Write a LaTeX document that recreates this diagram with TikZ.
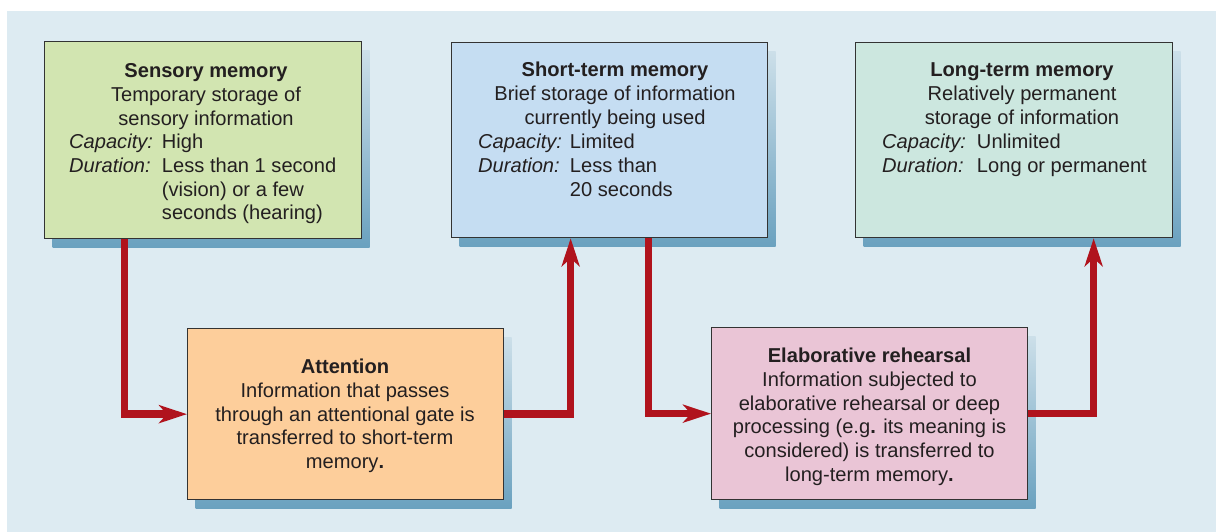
\documentclass[tikz,border=0pt]{standalone}
\usepackage{fontspec}
\setmainfont{Liberation Sans}
\usetikzlibrary{arrows.meta,calc,shadows}
\definecolor{bgblue}{HTML}{DDEBF2}
\definecolor{sensfill}{HTML}{D2E5B1}
\definecolor{stmfill}{HTML}{C5DDF2}
\definecolor{ltmfill}{HTML}{CCE7DF}
\definecolor{attfill}{HTML}{FDCE9B}
\definecolor{elabfill}{HTML}{EAC5D6}
\definecolor{shadtop}{HTML}{CCDFE9}
\definecolor{shadbot}{HTML}{6AA1BF}
\definecolor{flowred}{HTML}{B0131D}
\definecolor{edge}{HTML}{333333}
\definecolor{ink}{HTML}{231F20}
\begin{document}
\begin{tikzpicture}[x=1pt,y=-1pt,
  memBox/.style={draw=edge, line width=1.3pt, anchor=north west, inner sep=0pt,
    general shadow={shadow xshift=8pt, shadow yshift=-9pt, top color=shadtop, bottom color=shadbot, draw=none}},
  txt/.style={text=ink, font=\fontsize{20.1}{23.8}\selectfont, inner sep=0pt, anchor=base},
  flow/.style={draw=flowred, line width=7.5pt, line join=miter, -{Stealth[length=28pt,width=18pt,inset=8pt]}},
]
\useasboundingbox (0,0) rectangle (1216,532);
\fill[white] (0,0) rectangle (1216,532);
\fill[bgblue] (7,11) rectangle (1216,532);

% boxes
\node[memBox, fill=sensfill, minimum width=317pt, minimum height=197pt] (sens) at (44,41) {};
\node[memBox, fill=stmfill, minimum width=316pt, minimum height=195pt] (stm) at (451,42) {};
\node[memBox, fill=ltmfill, minimum width=317pt, minimum height=195pt] (ltm) at (855,42) {};
\node[memBox, fill=attfill, minimum width=316pt, minimum height=171pt] (att) at (187,328) {};
\node[memBox, fill=elabfill, minimum width=316pt, minimum height=172pt] (elab) at (711,327) {};

% texts
\node[txt] (sensT) at (206,77.5) {\begin{tabular}[t]{@{}c@{}}\textbf{Sensory memory}\\Temporary storage of\\sensory information\end{tabular}};
\node[txt, anchor=base west] (sensD) at (69,148.5) {\begin{tabular}[t]{@{}l@{\hspace{9pt}}l@{}}\textit{Capacity:} & High\\ \textit{Duration:} & Less than 1 second\\ & (vision) or a few\\ & seconds (hearing)\end{tabular}};

\node[txt] (stmT) at (615,76.5) {\begin{tabular}[t]{@{}c@{}}\textbf{Short-term memory}\\Brief storage of information\\currently being used\end{tabular}};
\node[txt, anchor=base west] (stmD) at (478,148.5) {\begin{tabular}[t]{@{}l@{\hspace{8pt}}l@{}}\textit{Capacity:} & Limited\\ \textit{Duration:} & Less than\\ & 20 seconds\end{tabular}};

\node[txt] (ltmT) at (1022,76.5) {\begin{tabular}[t]{@{}c@{}}\textbf{Long-term memory}\\Relatively permanent\\storage of information\end{tabular}};
\node[txt, anchor=base west] (ltmD) at (882,148.5) {\begin{tabular}[t]{@{}l@{\hspace{11pt}}l@{}}\textit{Capacity:} & Unlimited\\ \textit{Duration:} & Long or permanent\end{tabular}};

\node[txt] (attT) at (345,373.5) {\begin{tabular}[t]{@{}c@{}}\textbf{Attention}\\Information that passes\\through an attentional gate is\\transferred to short-term\\memory\textbf{.}\end{tabular}};

\node[txt] (elabT) at (869.5,362.5) {\begin{tabular}[t]{@{}c@{}}\textbf{Elaborative rehearsal}\\Information subjected to\\elaborative rehearsal or deep\\processing (e.g\textbf{.} its meaning is\\considered) is transferred to\\long-term memory\textbf{.}\end{tabular}};

% connectors
\draw[flow] ([xshift=-78.5pt]sens.south) |- (att.west);
\draw[flow] (att.east) -| ([xshift=-39pt]stm.south);
\draw[flow] ([xshift=39pt]stm.south) |- (elab.west);
\draw[flow] (elab.east) -| ([xshift=79.5pt]ltm.south);
\end{tikzpicture}
\end{document}
